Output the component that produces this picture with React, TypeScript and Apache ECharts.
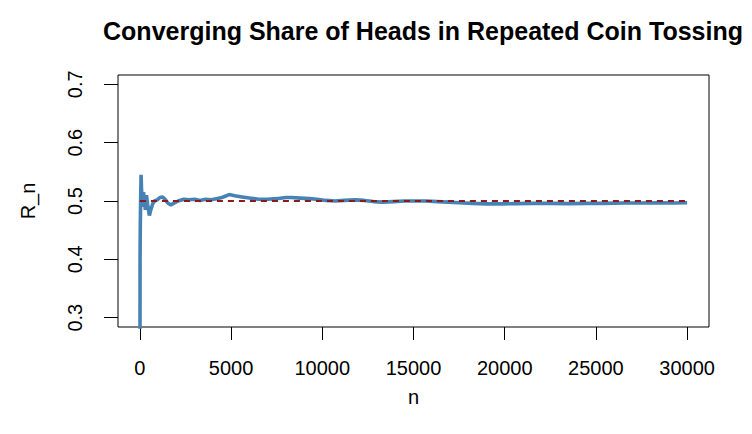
import React, { useEffect, useRef } from "react";
import * as echarts from "echarts";

const nValues: number[] = [
  1, 5, 10, 20, 40, 65, 90, 120, 160, 200, 250, 300, 360, 420, 520, 600, 700,
  800, 950, 1100, 1250, 1400, 1550, 1700, 1850, 2100, 2400, 2700, 3000, 3300,
  3600, 3900, 4200, 4500, 4900, 5200, 5600, 6000, 6500, 7000, 7500, 8000, 8300,
  8800, 9300, 9700, 10200, 10700, 11200, 11800, 12300, 12800, 13300, 13900,
  14500, 15100, 15700, 16300, 16900, 17500, 18200, 19000, 19800, 20600, 21500,
  22500, 23500, 24500, 25500, 26500, 27500, 28500, 29300, 30000,
];
const rValues: number[] = [
  0.0, 0.2, 0.4, 0.45, 0.5, 0.545, 0.52, 0.505, 0.49, 0.515, 0.5, 0.485, 0.51,
  0.495, 0.475, 0.485, 0.495, 0.5, 0.502, 0.506, 0.507, 0.502, 0.496, 0.493,
  0.496, 0.5, 0.503, 0.502, 0.503, 0.501, 0.503, 0.502, 0.504, 0.506, 0.511,
  0.509, 0.507, 0.505, 0.503, 0.503, 0.504, 0.506, 0.506, 0.505, 0.504, 0.503,
  0.501, 0.5, 0.501, 0.502, 0.501, 0.499, 0.498, 0.499, 0.5, 0.5, 0.5, 0.499,
  0.498, 0.497, 0.496, 0.495, 0.495, 0.4955, 0.496, 0.496, 0.4955, 0.496,
  0.496, 0.4965, 0.4965, 0.497, 0.4965, 0.497,
];
const referenceLevel = 0.5;
const xTicks: number[] = [0, 5000, 10000, 15000, 20000, 25000, 30000];
const yTicks: number[] = [0.3, 0.4, 0.5, 0.6, 0.7];

const FONT = "Liberation Sans";

export default function App() {
  const ref = useRef<HTMLDivElement>(null);
  useEffect(() => {
    if (!ref.current) return;
    const chart = echarts.init(ref.current, null, { renderer: "svg" });
    const lineData = nValues.map((n, i) => [n, rValues[i]]);
    chart.setOption({
      animation: false,
      backgroundColor: "#ffffff",
      textStyle: { fontFamily: FONT },
      title: {
        text: "Converging Share of Heads in Repeated Coin Tossing",
        left: 418,
        top: 13,
        textAlign: "center",
        textStyle: { fontFamily: FONT, fontWeight: "bold", fontSize: 25, color: "#000" },
      },
      grid: {
        left: 118,
        top: 75,
        width: 591,
        height: 252,
        show: true,
        borderColor: "#000",
        borderWidth: 1,
        backgroundColor: "transparent",
      },
      xAxis: {
        type: "value",
        min: -1199.96,
        max: 31199.96,
        name: "n",
        nameLocation: "middle",
        nameGap: 60,
        nameTextStyle: { fontFamily: FONT, fontSize: 20, color: "#000" },
        axisLine: { show: false, onZero: false },
        splitLine: { show: false },
        axisTick: {
          show: true,
          inside: false,
          length: 13,
          customValues: xTicks,
          lineStyle: { color: "#000", width: 1 },
        },
        axisLabel: {
          customValues: xTicks,
          fontFamily: FONT,
          fontSize: 20,
          color: "#000",
          margin: 31,
          formatter: (v: number) => String(v),
        },
      },
      yAxis: {
        type: "value",
        min: 0.284,
        max: 0.716,
        name: "R_n",
        nameLocation: "middle",
        nameGap: 80,
        nameTextStyle: { fontFamily: FONT, fontSize: 20, color: "#000" },
        axisLine: { show: false, onZero: false },
        splitLine: { show: false },
        axisTick: {
          show: true,
          inside: false,
          length: 14,
          customValues: yTicks,
          lineStyle: { color: "#000", width: 1 },
        },
        axisLabel: {
          customValues: yTicks,
          rotate: 90,
          fontFamily: FONT,
          fontSize: 20,
          color: "#000",
          margin: 33,
          formatter: (v: number) => v.toFixed(1),
        },
      },
      series: [
        {
          type: "line",
          data: lineData,
          showSymbol: false,
          symbol: "none",
          lineStyle: { color: "#4682B4", width: 3.6 },
          clip: true,
          z: 2,
        },
        {
          type: "line",
          data: [
            [nValues[0], referenceLevel],
            [nValues[nValues.length - 1], referenceLevel],
          ],
          showSymbol: false,
          symbol: "none",
          lineStyle: { color: "#8B1A1A", width: 2, type: [6, 5] },
          z: 3,
        },
      ],
    });
    return () => chart.dispose();
  }, []);
  return (
    <div
      ref={ref}
      style={{ position: "fixed", left: 0, top: 0, width: 752, height: 434 }}
    />
  );
}
